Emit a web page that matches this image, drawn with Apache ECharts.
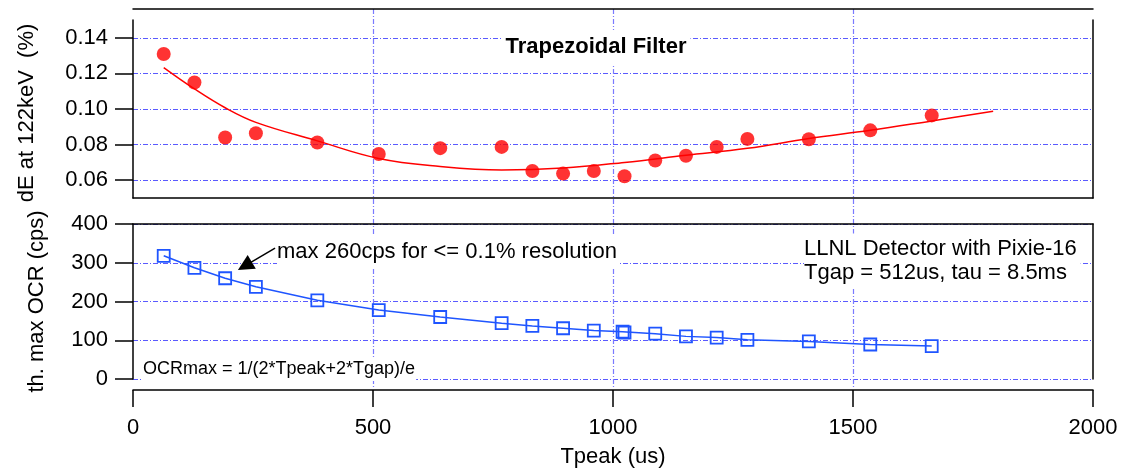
<!DOCTYPE html>
<html><head><meta charset="utf-8">
<script src="https://cdn.jsdelivr.net/npm/echarts@6/dist/echarts.min.js"></script>
<style>html,body{margin:0;padding:0;background:#fff}#c{width:1121px;height:469px}</style>
</head><body><div id="c"></div>
<script>
// ---- data ----
const tpeak = [64,128,192,256,384,512,640,768,832,896,960,1024,1088,1152,1216,1280,1408,1536,1664];
const dE = [0.1309,0.1149,0.0840,0.0864,0.0812,0.0747,0.0780,0.0787,0.0652,0.0637,0.0652,0.0622,0.0711,0.0737,0.0787,0.0832,0.0830,0.0880,0.0964];
const fitX = [64,128,192,256,384,512,640,768,896,1024,1152,1280,1408,1536,1664,1792];
const fitY = [0.1233,0.1113,0.1007,0.0925,0.0821,0.0722,0.0677,0.0657,0.0668,0.0700,0.0740,0.0779,0.0834,0.0880,0.0933,0.0987];
const ocrX = [64,128,192,256,384,512,640,768,832,896,960,1020,1024,1088,1152,1216,1280,1408,1536,1664];
const ocrY = [318,287,260,238,203,178,160,144,137,131,125,122,120,117,110,107,101,97,89,85];
const dETicks = [0.06,0.08,0.10,0.12,0.14];
const arrowFrom = [296,338];
const arrowTo = [233,292];

const FONT = 'Liberation Sans, Arial, sans-serif';
const black = {color:'#000', width:1.5};
const gridLine = {color:'#5a5aff', width:1, type:[5,2,1,2]};
const vGridLine = {color:'#7a7aff', width:1.2, type:[5,2,1,2]};
const pair = (xs, ys) => xs.map((x,i)=>[x, ys[i]]);

const chart = echarts.init(document.getElementById('c'), null, {renderer:'canvas'});
chart.setOption({
  animation:false,
  backgroundColor:'#fff',
  grid:[
    {left:133, right:28, top:20, height:178},
    {left:133, right:28, top:224, height:155.3},
    {left:133, right:28, top:9, height:379}
  ],
  xAxis:[
    {gridIndex:0, type:'value', min:0, max:2000, position:'bottom',
     axisLine:{show:true, onZero:false, lineStyle:black}, axisTick:{show:false}, axisLabel:{show:false}, splitLine:{show:false}},
    {gridIndex:0, type:'value', min:0, max:2000, position:'top', offset:11,
     axisLine:{show:true, onZero:false, lineStyle:black}, axisTick:{show:false}, axisLabel:{show:false}, splitLine:{show:false}},
    {gridIndex:1, type:'value', min:0, max:2000, interval:500, position:'bottom', offset:11,
     axisLine:{show:true, onZero:false, lineStyle:black},
     axisTick:{show:true, inside:false, length:17, lineStyle:black},
     axisLabel:{show:true, formatter:v=>String(v), fontSize:22, fontFamily:FONT, color:'#000', margin:27},
     splitLine:{show:false},
     name:'Tpeak (us)', nameLocation:'middle', nameGap:56,
     nameTextStyle:{fontSize:22, fontFamily:FONT, color:'#000'}},
    {gridIndex:1, type:'value', min:0, max:2000, position:'top',
     axisLine:{show:true, onZero:false, lineStyle:black}, axisTick:{show:false}, axisLabel:{show:false}, splitLine:{show:false}},
    {gridIndex:2, type:'value', min:0, max:2000, interval:500,
     axisLine:{show:false}, axisTick:{show:false}, axisLabel:{show:false},
     splitLine:{show:true, showMinLine:false, showMaxLine:false, lineStyle:vGridLine}}
  ],
  yAxis:[
    {gridIndex:0, type:'value', min:0.05, max:0.15, position:'left',
     axisLine:{show:true, onZero:false, lineStyle:black},
     axisTick:{show:true, inside:false, length:18, customValues:dETicks, lineStyle:black},
     axisLabel:{show:true, customValues:dETicks, formatter:v=>v.toFixed(2), fontSize:22, fontFamily:FONT, color:'#000', margin:25},
     splitLine:{show:true, lineStyle:gridLine},
     name:'dE at 122keV  (%)', nameLocation:'middle', nameGap:95, nameRotate:90,
     nameTextStyle:{fontSize:22, fontFamily:FONT, color:'#000', padding:[0,8,0,0]}},
    {gridIndex:0, type:'value', min:0.05, max:0.15, position:'right',
     axisLine:{show:true, onZero:false, lineStyle:black}, axisTick:{show:false}, axisLabel:{show:false}, splitLine:{show:false}},
    {gridIndex:1, type:'value', min:0, max:400, interval:100, position:'left',
     axisLine:{show:true, onZero:false, lineStyle:black},
     axisTick:{show:true, inside:false, length:18, lineStyle:black},
     axisLabel:{show:true, fontSize:22, fontFamily:FONT, color:'#000', margin:25},
     splitLine:{show:true, lineStyle:gridLine},
     name:'th. max OCR (cps)', nameLocation:'middle', nameGap:85, nameRotate:90,
     nameTextStyle:{fontSize:22, fontFamily:FONT, color:'#000'}},
    {gridIndex:1, type:'value', min:0, max:400, position:'right',
     axisLine:{show:true, onZero:false, lineStyle:black}, axisTick:{show:false}, axisLabel:{show:false}, splitLine:{show:false}},
    {gridIndex:2, type:'value', min:0, max:1, show:false}
  ],
  series:[
    {type:'line', name:'fit', xAxisIndex:0, yAxisIndex:0, data:pair(fitX, fitY), smooth:0.4,
     showSymbol:false, symbol:'none', lineStyle:{color:'#ff0000', width:1.5}, z:2},
    {type:'scatter', name:'dE', xAxisIndex:0, yAxisIndex:0, data:pair(tpeak, dE),
     symbol:'circle', symbolSize:14, itemStyle:{color:'#ff0000'}, z:3},
    {type:'line', name:'OCR', xAxisIndex:2, yAxisIndex:2, data:pair(ocrX, ocrY),
     symbol:'rect', symbolSize:12, showAllSymbol:true,
     lineStyle:{color:'#1f55ff', width:1.5},
     itemStyle:{color:'rgba(0,0,0,0)', borderColor:'#1f55ff', borderWidth:1.8}, z:3,
     markLine:{silent:true, symbol:['none','triangle'], symbolSize:16, z:5,
       lineStyle:{color:'#000', width:1.5, type:'solid'}, label:{show:false},
       data:[[{coord:arrowFrom}, {coord:arrowTo}]]}}
  ],
  graphic:[
    {type:'text', z:50, x:596, y:47, style:{text:'Trapezoidal Filter', font:'bold 22px '+FONT, fill:'#000',
      align:'center', verticalAlign:'middle', backgroundColor:'#fff', padding:[6,4,6,4]}},
    {type:'text', z:50, x:277, y:252, style:{text:'max 260cps for <= 0.1% resolution', font:'22px '+FONT, fill:'#000',
      align:'left', verticalAlign:'middle', backgroundColor:'#fff', padding:[4,2,6,0]}},
    {type:'text', z:50, x:804, y:261, style:{text:'LLNL Detector with Pixie-16\nTgap = 512us, tau = 8.5ms', font:'22px '+FONT, fill:'#000',
      align:'left', verticalAlign:'middle', lineHeight:23.5, backgroundColor:'#fff', padding:[4,4,4,0]}},
    {type:'text', z:50, x:143, y:369, style:{text:'OCRmax = 1/(2*Tpeak+2*Tgap)/e', font:'18px '+FONT, fill:'#000',
      align:'left', verticalAlign:'middle', backgroundColor:'#fff', padding:[2,1,4,0]}}
  ]
});
</script></body></html>
